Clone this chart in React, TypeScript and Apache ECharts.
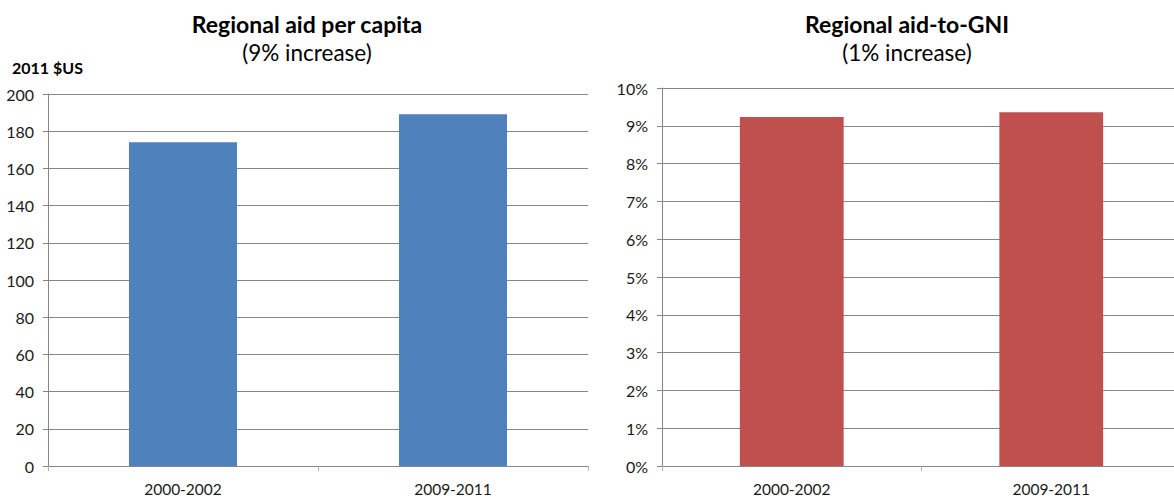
import React, { useEffect, useRef } from "react";
import * as echarts from "echarts";

const categories = ["2000-2002", "2009-2011"];
const aidPerCapita = [174.1, 189.1];
const aidToGNI = [9.23, 9.36];
const leftTitle = "Regional aid per capita";
const leftSubtitle = "(9% increase)";
const rightTitle = "Regional aid-to-GNI";
const rightSubtitle = "(1% increase)";
const leftUnit = "2011 $US";

const FONT = "Lato, 'Liberation Sans', sans-serif";
const GRID_COLOR = "#868686";
const TEXT_COLOR = "#1a1a1a";

export default function App() {
  const ref = useRef<HTMLDivElement>(null);
  useEffect(() => {
    if (!ref.current) return;
    const chart = echarts.init(ref.current, undefined, { renderer: "svg" });
    const axisCommon = {
      axisLine: { show: true, lineStyle: { color: GRID_COLOR, width: 1 } },
      axisTick: { show: true, length: 5, lineStyle: { color: GRID_COLOR } },
      splitLine: { show: true, lineStyle: { color: GRID_COLOR, width: 1 } },
    };
    const xCommon = {
      type: "category" as const,
      data: categories,
      axisLine: { show: true, lineStyle: { color: GRID_COLOR, width: 1 } },
      axisTick: { show: true, length: 5, lineStyle: { color: "#b0b0b0" } },
      axisLabel: { fontFamily: FONT, fontSize: 15.5, color: TEXT_COLOR, margin: 15 },
      splitLine: { show: false },
    };
    chart.setOption({
      animation: false,
      backgroundColor: "#ffffff",
      title: [
        { text: leftTitle, left: 302, top: 7, textAlign: "center", textStyle: { fontFamily: FONT, fontSize: 23, fontWeight: "bold", color: "#000" } },
        { text: leftSubtitle, left: 302, top: 36, textAlign: "center", textStyle: { fontFamily: FONT, fontSize: 22.5, fontWeight: "normal", color: "#000" } },
        { text: rightTitle, left: 902, top: 7, textAlign: "center", textStyle: { fontFamily: FONT, fontSize: 23, fontWeight: "bold", color: "#000" } },
        { text: rightSubtitle, left: 902, top: 36, textAlign: "center", textStyle: { fontFamily: FONT, fontSize: 22.5, fontWeight: "normal", color: "#000" } },
        { text: leftUnit, left: 7, top: 54, textStyle: { fontFamily: FONT, fontSize: 16, fontWeight: "bold", color: "#000" } },
      ],
      grid: [
        { left: 48, top: 94, width: 540, height: 372, containLabel: false },
        { left: 662, top: 88, width: 519, height: 378, containLabel: false },
      ],
      xAxis: [
        { ...xCommon, gridIndex: 0 },
        { ...xCommon, gridIndex: 1 },
      ],
      yAxis: [
        {
          type: "value",
          gridIndex: 0,
          min: 0,
          max: 200,
          interval: 20,
          ...axisCommon,
          axisLabel: { fontFamily: FONT, fontSize: 16, color: TEXT_COLOR, margin: 14 },
        },
        {
          type: "value",
          gridIndex: 1,
          min: 0,
          max: 10,
          interval: 1,
          ...axisCommon,
          axisLabel: { fontFamily: FONT, fontSize: 16, color: TEXT_COLOR, margin: 14, formatter: "{value}%" },
        },
      ],
      series: [
        {
          type: "bar",
          xAxisIndex: 0,
          yAxisIndex: 0,
          data: aidPerCapita,
          barWidth: "40%",
          itemStyle: { color: "#4F81BD" },
        },
        {
          type: "bar",
          xAxisIndex: 1,
          yAxisIndex: 1,
          data: aidToGNI,
          barWidth: "40%",
          itemStyle: { color: "#C0504D" },
        },
      ],
    });
    return () => chart.dispose();
  }, []);
  return (
    <div style={{ position: "fixed", left: 0, top: 0, width: 1174, height: 498, overflow: "hidden", background: "#fff" }}>
      <div ref={ref} style={{ width: 1200, height: 498 }} />
    </div>
  );
}
